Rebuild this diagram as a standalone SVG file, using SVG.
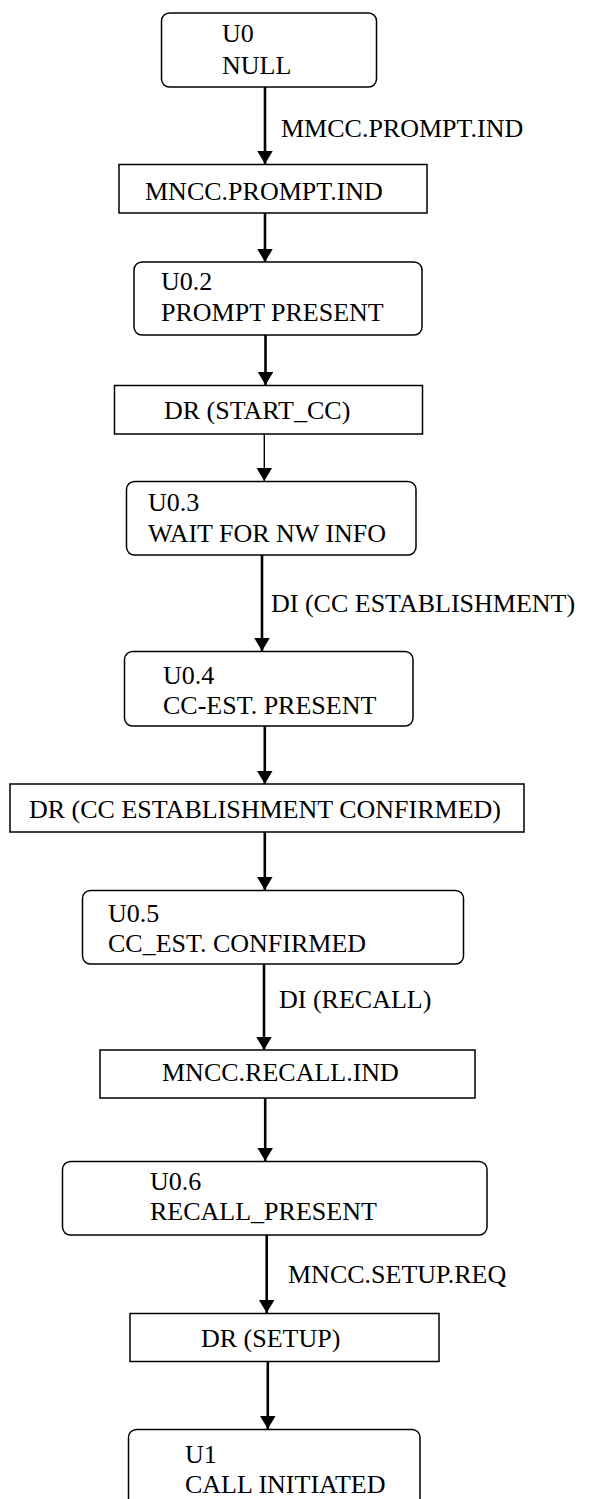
<svg xmlns="http://www.w3.org/2000/svg" width="589" height="1499" viewBox="0 0 589 1499">
<defs>
<style>
.box{fill:#fff;stroke:#000;stroke-width:1.5}
.t{font-family:"Liberation Serif","Times New Roman",serif;font-size:26px;fill:#000}
.c{stroke:#000;stroke-width:2.6;fill:none}
.c.thin{stroke-width:1.4}
</style>
<marker id="ah" markerUnits="userSpaceOnUse" markerWidth="14" markerHeight="16" refX="13" refY="7.75" orient="auto" viewBox="0 0 14 16">
<path d="M0,0 L13,7.75 L0,15.5 Z" fill="#000"/>
</marker>
</defs>
<rect width="589" height="1499" fill="#fff"/>

<g id="connectors">
<line class="c" x1="265" y1="87" x2="265" y2="164" marker-end="url(#ah)"/>
<text class="t" x="281" y="137">MMCC.PROMPT.IND</text>
<line class="c" x1="265" y1="213" x2="265" y2="262" marker-end="url(#ah)"/>
<line class="c" x1="265.5" y1="335" x2="265.5" y2="385" marker-end="url(#ah)"/>
<line class="c thin" x1="264.3" y1="434" x2="264.3" y2="481" marker-end="url(#ah)"/>
<line class="c" x1="262" y1="555" x2="262" y2="651" marker-end="url(#ah)"/>
<text class="t" x="271" y="612">DI (CC ESTABLISHMENT)</text>
<line class="c" x1="264.8" y1="726" x2="264.8" y2="784" marker-end="url(#ah)"/>
<line class="c" x1="264.8" y1="832" x2="264.8" y2="890" marker-end="url(#ah)"/>
<line class="c" x1="264" y1="964" x2="264" y2="1050" marker-end="url(#ah)"/>
<text class="t" x="279" y="1008">DI (RECALL)</text>
<line class="c" x1="265.2" y1="1098" x2="265.2" y2="1161" marker-end="url(#ah)"/>
<line class="c" x1="266.7" y1="1235" x2="266.7" y2="1313" marker-end="url(#ah)"/>
<text class="t" x="288" y="1283">MNCC.SETUP.REQ</text>
<line class="c" x1="267.8" y1="1362" x2="267.8" y2="1429" marker-end="url(#ah)"/>
</g>

<g id="u0">
<rect class="box" x="161.5" y="13" width="215" height="74" rx="8"/>
<text class="t" x="222" y="42">U0</text>
<text class="t" x="222" y="74">NULL</text>
</g>
<g id="mncc-prompt-ind">
<rect class="box" x="119" y="164.5" width="308" height="48.5"/>
<text class="t" x="145" y="200">MNCC.PROMPT.IND</text>
</g>
<g id="u0-2">
<rect class="box" x="134" y="262" width="288" height="73" rx="8"/>
<text class="t" x="161" y="290">U0.2</text>
<text class="t" x="161" y="321">PROMPT PRESENT</text>
</g>
<g id="dr-start-cc">
<rect class="box" x="114.5" y="385.5" width="308" height="48.5"/>
<text class="t" x="164" y="419">DR (START_CC)</text>
</g>
<g id="u0-3">
<rect class="box" x="126.5" y="481.5" width="289.5" height="73.5" rx="8"/>
<text class="t" x="148" y="511">U0.3</text>
<text class="t" x="148" y="542">WAIT FOR NW INFO</text>
</g>
<g id="u0-4">
<rect class="box" x="124.5" y="651.5" width="288.5" height="74.5" rx="8"/>
<text class="t" x="163" y="684">U0.4</text>
<text class="t" x="163" y="714">CC-EST. PRESENT</text>
</g>
<g id="dr-cc-est-confirmed">
<rect class="box" x="10" y="784" width="514" height="48"/>
<text class="t" x="29" y="818">DR (CC ESTABLISHMENT CONFIRMED)</text>
</g>
<g id="u0-5">
<rect class="box" x="82.5" y="890.5" width="381" height="73.5" rx="8"/>
<text class="t" x="108" y="922">U0.5</text>
<text class="t" x="108" y="952">CC_EST. CONFIRMED</text>
</g>
<g id="mncc-recall-ind">
<rect class="box" x="100" y="1050" width="375" height="48"/>
<text class="t" x="162" y="1081">MNCC.RECALL.IND</text>
</g>
<g id="u0-6">
<rect class="box" x="62.5" y="1161.5" width="424.5" height="73.5" rx="8"/>
<text class="t" x="150" y="1190">U0.6</text>
<text class="t" x="150" y="1220">RECALL_PRESENT</text>
</g>
<g id="dr-setup">
<rect class="box" x="130" y="1313.5" width="309" height="48"/>
<text class="t" x="201" y="1347">DR (SETUP)</text>
</g>
<g id="u1">
<rect class="box" x="128.5" y="1429.5" width="291.5" height="90" rx="8"/>
<text class="t" x="185" y="1463">U1</text>
<text class="t" x="185" y="1493">CALL INITIATED</text>
</g>
</svg>
